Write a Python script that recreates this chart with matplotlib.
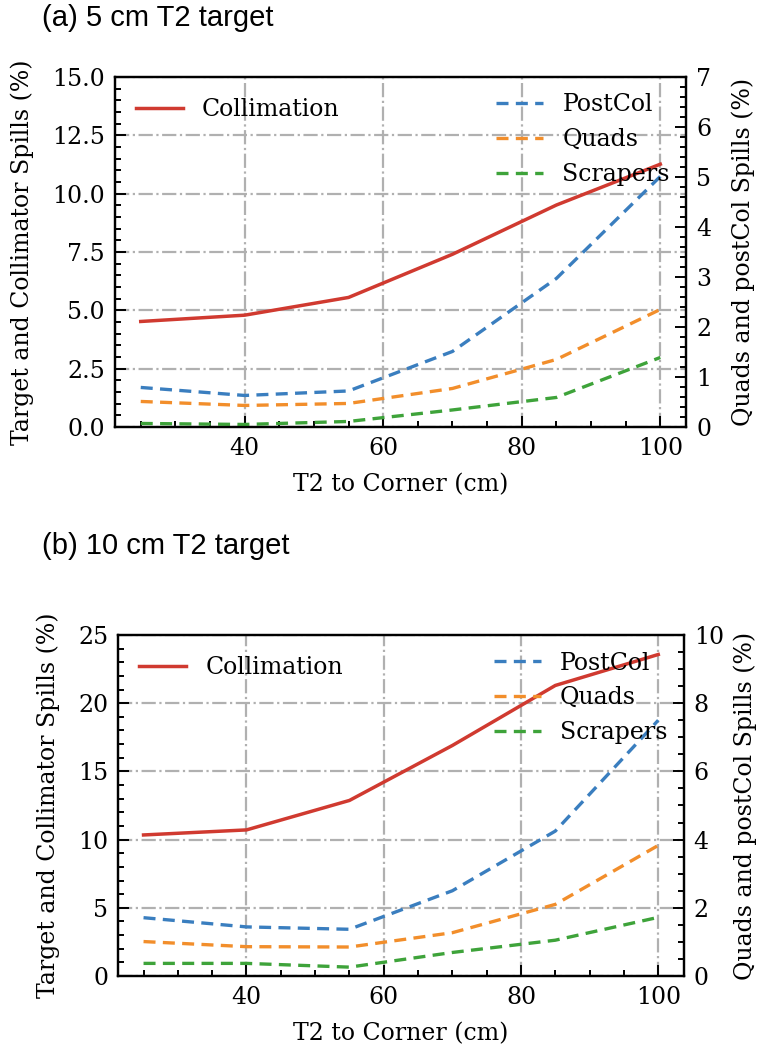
import numpy as np
import matplotlib
matplotlib.use('Agg')
import matplotlib.pyplot as plt
from matplotlib.ticker import AutoMinorLocator, MultipleLocator

plt.rcParams['font.family'] = 'DejaVu Serif'
plt.rcParams['font.size'] = 17
plt.rcParams['mathtext.fontset'] = 'dejavuserif'

# T2 to corner distance (cm)
dist = [25, 40, 55, 70, 85, 100]

# (a) 5 cm T2 target
coll_a = [4.52, 4.79, 5.55, 7.40, 9.51, 11.26]
postcol_a = [0.79, 0.63, 0.72, 1.51, 2.97, 5.01]
quads_a = [0.51, 0.43, 0.47, 0.77, 1.35, 2.35]
scrapers_a = [0.07, 0.05, 0.11, 0.34, 0.59, 1.39]

# (b) 10 cm T2 target
coll_b = [10.34, 10.71, 12.87, 16.9, 21.3, 23.57]
postcol_b = [1.71, 1.44, 1.37, 2.50, 4.25, 7.50]
quads_b = [1.01, 0.86, 0.85, 1.27, 2.10, 3.83]
scrapers_b = [0.37, 0.37, 0.26, 0.69, 1.05, 1.72]

panels = [
    dict(title='(a) 5 cm T2 target', rect=[0.151, 0.5926, 0.752, 0.334],
         coll=coll_a, post=postcol_a, quads=quads_a, scr=scrapers_a,
         ylim=15, ystep=2.5, fmt='%.1f', y2lim=7, y2step=1, title_y=0.996,
         pad2=15),
    dict(title='(b) 10 cm T2 target', rect=[0.155, 0.0687, 0.745, 0.3254],
         coll=coll_b, post=postcol_b, quads=quads_b, scr=scrapers_b,
         ylim=25, ystep=5, fmt='%d', y2lim=10, y2step=2, title_y=0.4924,
         pad2=7),
]

fig = plt.figure(figsize=(7.6, 10.48), dpi=100)

for p in panels:
    ax = fig.add_axes(p['rect'])
    ax2 = ax.twinx()

    ax.plot(dist, p['coll'], color='#d03a30', lw=2.5, label='Collimation')
    dash = (3.6, 2.2)
    ax2.plot(dist, p['post'], '--', dashes=dash, color='#3a7ebf', lw=2.4, label='PostCol')
    ax2.plot(dist, p['quads'], '--', dashes=dash, color='#f28e2b', lw=2.4, label='Quads')
    ax2.plot(dist, p['scr'], '--', dashes=dash, color='#3ea33a', lw=2.4, label='Scrapers')

    ax.set_ylim(0, p['ylim'])
    ax2.set_ylim(0, p['y2lim'])
    ax.yaxis.set_major_locator(MultipleLocator(p['ystep']))
    ax2.yaxis.set_major_locator(MultipleLocator(p['y2step']))
    ax.yaxis.set_major_formatter(plt.FormatStrFormatter(p['fmt']))
    ax.xaxis.set_major_locator(MultipleLocator(20))
    for a in (ax, ax2):
        a.xaxis.set_minor_locator(AutoMinorLocator())
        a.yaxis.set_minor_locator(AutoMinorLocator())
        a.tick_params(which='both', direction='in', width=1.4)
        a.tick_params(which='major', length=8, pad=7)
        a.tick_params(which='minor', length=4.5)
        for s in a.spines.values():
            s.set_linewidth(1.6)

    ax.grid(True, which='major', color='#b0b0b0', linestyle='-.', linewidth=1.6)

    ax.set_xlabel('T2 to Corner (cm)', labelpad=10)
    ax.set_ylabel('Target and Collimator Spills (%)', labelpad=13)
    ax2.set_ylabel('Quads and postCol Spills (%)', labelpad=p['pad2'])

    ax.legend(loc='upper left', frameon=False, handlelength=2.0)
    ax2.legend(loc='upper right', frameon=False, handlelength=2.0,
               labelspacing=0.5, borderaxespad=0.3)

    fig.text(0.055, p['title_y'], p['title'], family='Liberation Sans',
             fontsize=21, va='top', ha='left')

fig.savefig('out.png', dpi=100)
